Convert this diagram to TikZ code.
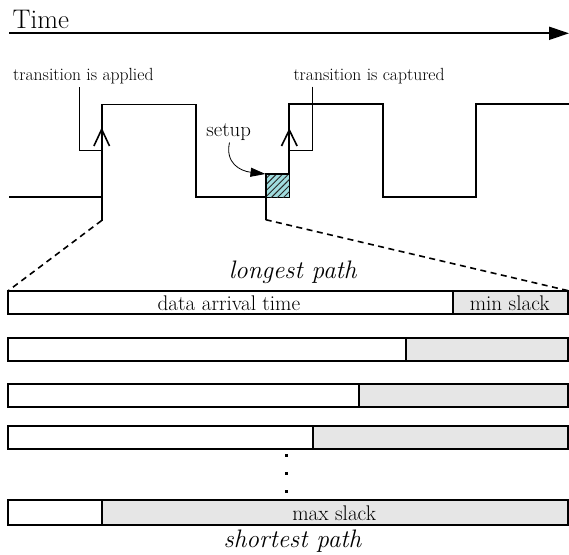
\documentclass[tikz,border=0pt]{standalone}
\usetikzlibrary{arrows.meta,patterns.meta}
\definecolor{slackgray}{RGB}{230,230,230}
\definecolor{setupcyan}{RGB}{160,220,222}
\tikzset{
  wave/.style={line width=1.8pt, line join=miter, line cap=butt},
  callout/.style={line width=0.7pt},
  barline/.style={line width=1.7pt},
  zoomline/.style={line width=1.6pt, dash pattern=on 6pt off 4.5pt},
  edgearrow/.style={line width=1.6pt, line join=miter},
  lbl/.style={inner sep=0pt, anchor=base},
  lblw/.style={inner sep=0pt, anchor=base west},
}
\newcommand{\fsz}[1]{\fontsize{#1}{#1}\selectfont}
\begin{document}
\begin{tikzpicture}[x=1pt,y=-1pt]
\useasboundingbox (0,0) rectangle (569,554);
% Time axis
\node[lblw] (time) at (12.5,28.3) {\fsz{26.9pt}Time};
\coordinate (t0) at (9,33.3);
\coordinate (t1) at (569,33.3);
\draw[line width=2pt,-{Triangle[length=20pt,width=13pt]}] (t0) -- (t1);
% labels
\node[lblw] (ap) at (13,80) {\fsz{17.6pt}transition is applied};
\node[lblw] (cap) at (293.3,80) {\fsz{17.6pt}transition is captured};
\node[lblw] (setup) at (206.2,136.5) {\fsz{20.8pt}setup};
% waveform
\draw[wave] (9,197) -- (101.7,197) -- (101.7,104.5) -- (195.7,104.5) -- (195.7,197)
  -- (289.3,197) -- (289.3,104) -- (382.7,104) -- (382.7,197) -- (476,197)
  -- (476,104) -- (569,104);
\coordinate (e1) at (101.7,220.5);
\draw[wave] (101.7,197) -- (e1);
% setup box
\fill[setupcyan] (265.7,174) rectangle (289.3,197);
\fill[pattern={Lines[angle=45,distance=4.3pt,line width=0.9pt]}, pattern color=black!85] (265.7,174) rectangle (289.3,197);
\draw[wave] (265.7,197) -- (265.7,174) -- (289.3,174);
\coordinate (e2) at (265.7,219.7);
\draw[wave] (265.7,197) -- (e2);
% edge arrows
\draw[edgearrow] (93.9,146) -- (101.7,129.3) -- (109.5,146);
\draw[edgearrow] (281.5,146) -- (289.3,130) -- (297.1,146);
% callouts
\coordinate (apA) at (79,87);
\coordinate (apB) at (101.7,150.7);
\draw[callout] (apA) |- (apB);
\coordinate (cpA) at (312,86.7);
\coordinate (cpB) at (289.3,150);
\draw[callout] (cpA) |- (cpB);
% setup arrow
\coordinate (sA) at (229.5,142.5);
\coordinate (sB) at (265.5,174);
\draw[line width=0.8pt,-{Triangle[length=15pt,width=9pt]}] (sA) .. controls (225,163) and (240,171) .. (sB);
% zoom lines
\coordinate (b1l) at (8.3,290.7);
\coordinate (b1r) at (568.3,290.7);
\draw[zoomline] (e1) -- (b1l);
\draw[zoomline] (e2) -- (b1r);
% bars
\foreach \top/\bot/\dv in {290.7/314/452.7, 337.7/360.7/405.7, 384.3/407.3/359, 426/449.3/312.7, 500/525/101.7}{
  \fill[slackgray] (\dv,\top) rectangle (568.3,\bot);
  \draw[barline] (8.3,\top) rectangle (568.3,\bot);
  \draw[barline] (\dv,\top) -- (\dv,\bot);
}
% texts in bars
\node[lbl] (lp) at (292.7,278) {\fsz{25.3pt}\itshape longest path};
\node[lbl] (dat) at (228.9,310.5) {\fsz{21.2pt}data arrival time};
\node[lbl] (mins) at (509.7,310.5) {\fsz{21.2pt}min slack};
\node[lbl] (maxs) at (334.2,520) {\fsz{21.2pt}max slack};
\node[lbl] (sp) at (292.5,547) {\fsz{25.3pt}\itshape shortest path};
% dots
\foreach \y in {455,473.3,491.7}{
  \fill (285,\y-1.5) rectangle (288,\y+1.5);
}
\end{tikzpicture}
\end{document}
